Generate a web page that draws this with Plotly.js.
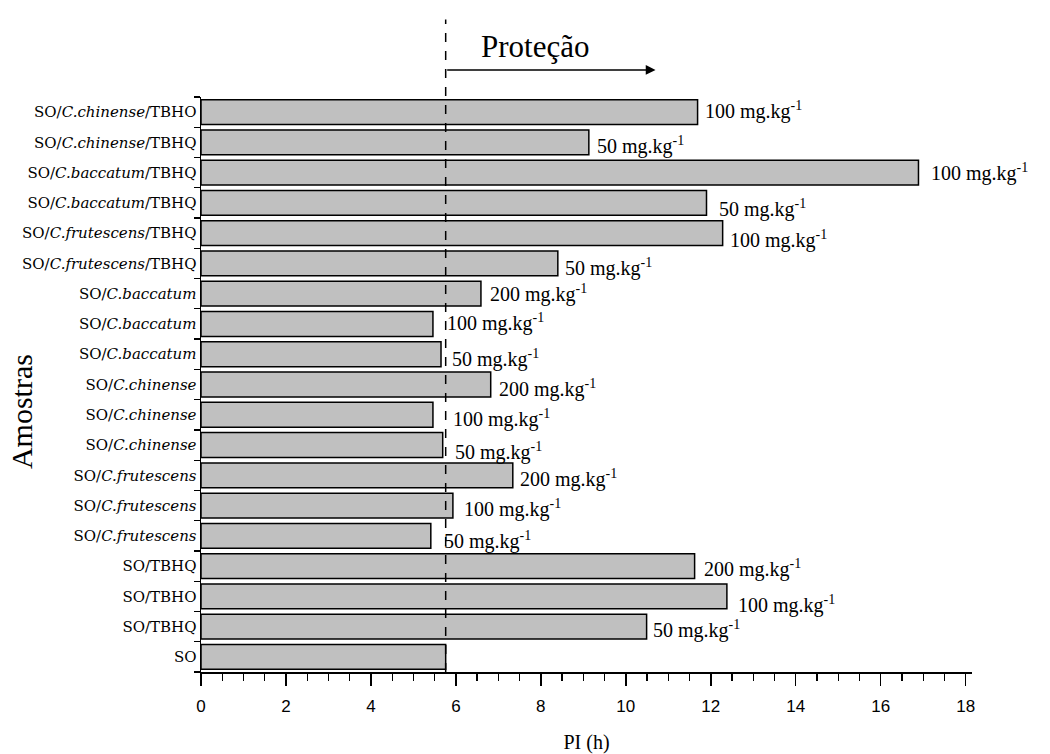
<!DOCTYPE html>
<html>
<head>
<meta charset="utf-8">
<script src="https://cdn.plot.ly/plotly-3.0.1.min.js"></script>
<style>html,body{margin:0;padding:0;background:#fff;}#chart{width:1050px;height:754px;}</style>
</head>
<body>
<div id="chart"></div>
<script>
// Samples, listed top to bottom as in the figure
const samples = [
  "SO/<i>C.chinense</i>/TBHO",
  "SO/<i>C.chinense</i>/TBHQ",
  "SO/<i>C.baccatum</i>/TBHQ",
  "SO/<i>C.baccatum</i>/TBHQ",
  "SO/<i>C.frutescens</i>/TBHQ",
  "SO/<i>C.frutescens</i>/TBHQ",
  "SO/<i>C.baccatum</i>",
  "SO/<i>C.baccatum</i>",
  "SO/<i>C.baccatum</i>",
  "SO/<i>C.chinense</i>",
  "SO/<i>C.chinense</i>",
  "SO/<i>C.chinense</i>",
  "SO/<i>C.frutescens</i>",
  "SO/<i>C.frutescens</i>",
  "SO/<i>C.frutescens</i>",
  "SO/TBHQ",
  "SO/TBHO",
  "SO/TBHQ",
  "SO"
];
// Induction period PI (h)
const piHours = [11.69, 9.13, 16.89, 11.90, 12.28, 8.40, 6.59, 5.46, 5.65, 6.82, 5.46, 5.69, 7.34, 5.93, 5.41, 11.62, 12.38, 10.49, 5.76];
// Dose labels (mg.kg-1); empty for the control
const doses = ["100", "50", "100", "50", "100", "50", "200", "100", "50", "200", "100", "50", "200", "100", "50", "200", "100", "50", ""];
const protectionLabel = "Proteção";
const protectionArrowEnd = 10.7;
const yTitle = "Amostras";
const xTitle = "PI (h)";

// label offsets (style, pixels)
const labelDx = [5, 6, 11, 10, 5, 5, 7, 12, 9, 6, 18, 10, 5, 9, 11, 7, 9, 4, 0];
const labelDy = [2, -3, 0, -6, -6, -4, 0, 1, -4, -4, -4, -6, -3, -3, -5, -2, -8, -3, 0];

const n = samples.length;
const yIdx = samples.map((_, i) => n - 1 - i);
const soValue = piHours[n - 1];

const trace = {
  type: 'bar',
  orientation: 'h',
  x: piHours,
  y: yIdx,
  width: 0.82,
  marker: {color: '#c0c0c0', line: {color: '#000', width: 1.5}},
  hoverinfo: 'x'
};

const serif = 'Liberation Serif, Times New Roman, serif';
const annotations = [];
doses.forEach((d, i) => {
  if (!d) return;
  annotations.push({
    x: piHours[i], y: yIdx[i], xref: 'x', yref: 'y',
    text: d + ' mg.kg<sup>-1</sup>',
    showarrow: false, xanchor: 'left', yanchor: 'middle',
    xshift: labelDx[i], yshift: labelDy[i],
    font: {family: serif, size: 20, color: '#000'}
  });
});
annotations.push({
  x: protectionArrowEnd, y: 1.047, xref: 'x', yref: 'paper',
  ax: soValue, ay: 0, axref: 'x', ayref: 'pixel',
  showarrow: true, arrowhead: 2, arrowsize: 1.3, arrowwidth: 1.5, arrowcolor: '#000',
  text: ''
});
annotations.push({
  x: 7.86, y: 1.087, xref: 'x', yref: 'paper',
  text: protectionLabel, showarrow: false, xanchor: 'center', yanchor: 'middle',
  font: {family: serif, size: 31, color: '#000'}
});
annotations.push({
  x: 0, y: 0.452, xref: 'paper', yref: 'paper', xshift: -180,
  text: yTitle, textangle: -90, showarrow: false, xanchor: 'center', yanchor: 'middle',
  font: {family: serif, size: 30, color: '#000'}
});

const layout = {
  width: 1050, height: 754,
  margin: {l: 201, r: 78, t: 97, b: 82},
  paper_bgcolor: '#fff', plot_bgcolor: '#fff',
  showlegend: false,
  xaxis: {
    range: [0, 18.15],
    tick0: 0, dtick: 2,
    ticks: 'outside', ticklen: 12, tickwidth: 1.5, tickcolor: '#000',
    ticklabelstandoff: 6,
    minor: {dtick: 0.5, tick0: 0, ticks: 'outside', ticklen: 7, tickwidth: 1.3, tickcolor: '#000'},
    showline: true, linecolor: '#000', linewidth: 1.5,
    showgrid: false, zeroline: false,
    tickfont: {family: 'Liberation Sans, Arial, sans-serif', size: 17, color: '#000'},
    title: {text: xTitle, font: {family: serif, size: 20, color: '#000'}, standoff: 25}
  },
  yaxis: {
    range: [-0.5, n - 0.5],
    tickmode: 'array', tickvals: yIdx, ticktext: samples,
    ticks: '', ticklen: 0,
    minor: {tickmode: 'linear', tick0: 0.5, dtick: 1, ticks: 'outside', ticklen: 6, tickwidth: 1.3, tickcolor: '#000'},
    showline: true, linecolor: '#000', linewidth: 1.5,
    showgrid: false, zeroline: false,
    tickfont: {family: 'DejaVu Serif, serif', size: 15, color: '#000'}
  },
  shapes: [{
    type: 'line', xref: 'x', yref: 'paper',
    x0: soValue, x1: soValue, y0: 0, y1: 1.135,
    line: {color: '#000', width: 1.5, dash: 'dash'}
  }],
  annotations: annotations
};

Plotly.newPlot('chart', [trace], layout, {displayModeBar: false, staticPlot: true});
</script>
</body>
</html>
